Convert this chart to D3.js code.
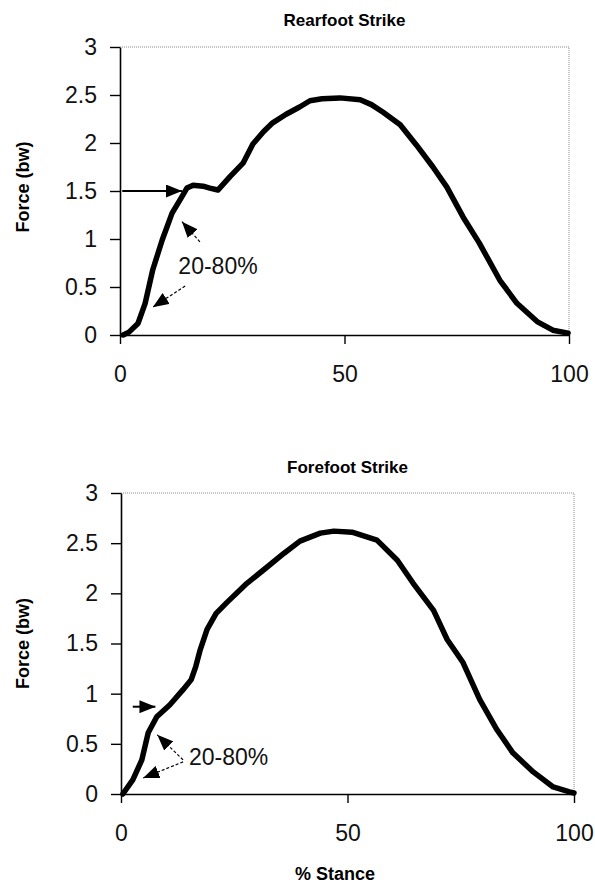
<!DOCTYPE html>
<html><head><meta charset="utf-8">
<script src="https://cdn.jsdelivr.net/npm/d3@7"></script>
<style>body{margin:0;background:#fff}svg{display:block}</style>
</head><body>
<script>
// ---- data ----
const xTicks = [0, 50, 100];
const yTicks = [0, 0.5, 1, 1.5, 2, 2.5, 3];
const yTickLabels = ["0", "0.5", "1", "1.5", "2", "2.5", "3"];

const rearPct = [0.7,2,4,5.6,7.3,9.4,11.6,13.4,14.9,16.3,18.5,20,21.8,24.5,27.4,29.6,32,34,37,40,42.3,45,49,53.5,56,58.6,62.4,66,69.7,72.8,76.4,80,84.6,88.4,92.9,96.4,99.8];
const rearForce = [0,0.03,0.12,0.33,0.68,0.99,1.27,1.41,1.53,1.56,1.55,1.53,1.51,1.65,1.79,1.99,2.12,2.21,2.30,2.375,2.44,2.46,2.47,2.45,2.40,2.32,2.19,1.98,1.75,1.54,1.23,0.96,0.57,0.33,0.14,0.05,0.02];

const forePct = [0.4,2.6,4.6,6,7.9,10.8,13.7,15.5,16.5,17.5,19,21,23.4,27.8,32.2,36,39.5,44,47,51,56.5,61,64.5,69,72,75.5,79.2,83,86.5,91,95.4,99,100];
const foreForce = [0,0.14,0.34,0.61,0.77,0.89,1.04,1.14,1.27,1.44,1.64,1.80,1.91,2.1,2.26,2.40,2.52,2.60,2.62,2.61,2.53,2.33,2.1,1.83,1.54,1.31,0.94,0.64,0.41,0.22,0.07,0.02,0.01];

const titles = ["Rearfoot Strike", "Forefoot Strike"];
const yLabel = "Force (bw)";
const xLabel = "% Stance";
const noteText = "20-80%";
// annotation arrows: [x0,y0,x1,y1] in data units (tail -> tip)
const rearArrows = [[0.5,1.5,13.8,1.5],[17.8,0.97,13.8,1.18],[14.5,0.51,7.3,0.29]];
const foreArrows = [[2.6,0.87,7.6,0.87],[13.7,0.34,8.0,0.59],[13.7,0.32,4.9,0.16]];
const rearNote = [13, 0.72];
const foreNote = [15, 0.37];

// ---- layout ----
const W = 595, H = 886;
const svg = d3.select("body").append("svg").attr("width", W).attr("height", H);

const defs = svg.append("defs");
defs.append("marker").attr("id","ah").attr("viewBox","0 0 16 13").attr("refX",16).attr("refY",6.5)
  .attr("markerWidth",16).attr("markerHeight",13).attr("markerUnits","userSpaceOnUse").attr("orient","auto")
  .append("path").attr("d","M0,0L16,6.5L0,13Z").attr("fill","#000");

const panels = [
  {pct: rearPct, force: rearForce, title: titles[0], arrows: rearArrows, note: rearNote,
   x0: 120, x1: 569, yTop: 47, yBot: 335, titleY: 20, showX: false},
  {pct: forePct, force: foreForce, title: titles[1], arrows: foreArrows, note: foreNote,
   x0: 121, x1: 574, yTop: 493, yBot: 794, titleY: 467, showX: true}
];

const tickFont = "'Liberation Sans', Arial, sans-serif";

panels.forEach((p, i) => {
  const x = d3.scaleLinear().domain([0, 100]).range([p.x0, p.x1]);
  const y = d3.scaleLinear().domain([0, 3]).range([p.yBot, p.yTop]);
  const g = svg.append("g");

  // dotted frame top/right
  g.append("path")
    .attr("d", `M${p.x0},${p.yTop}H${p.x1}V${p.yBot}`)
    .attr("fill","none").attr("stroke","#8a8a8a").attr("stroke-width",1).attr("stroke-dasharray","1,1");

  // y axis
  const yAxis = d3.axisLeft(y).tickValues(yTicks).tickFormat((d, k) => yTickLabels[k])
    .tickSizeInner(10).tickSizeOuter(0).tickPadding(13);
  const ya = g.append("g").attr("transform", `translate(${p.x0},0)`).call(yAxis);
  ya.select(".domain").attr("stroke","#000").attr("stroke-width",1.6);
  ya.selectAll(".tick line").attr("stroke","#000").attr("stroke-width",1.4);
  ya.selectAll(".tick text").attr("font-family", tickFont).attr("font-size", 23).attr("fill","#111");

  // x axis
  const xAxis = d3.axisBottom(x).tickValues(xTicks).tickFormat(d3.format("d"))
    .tickSizeInner(9).tickSizeOuter(0).tickPadding(22);
  const xa = g.append("g").attr("transform", `translate(0,${p.yBot})`).call(xAxis);
  xa.select(".domain").attr("stroke","#000").attr("stroke-width",1.6);
  xa.selectAll(".tick line").attr("stroke","#000").attr("stroke-width",1.4);
  xa.selectAll(".tick text").attr("font-family", tickFont).attr("font-size", 23).attr("fill","#111");

  // title
  g.append("text").attr("x", (p.x0 + p.x1) / 2).attr("y", p.titleY).attr("text-anchor","middle")
    .attr("dominant-baseline","central")
    .attr("font-family","Arial, 'Liberation Sans', sans-serif").attr("font-weight","bold").attr("font-size",17)
    .text(p.title);

  // y label
  g.append("text").attr("transform", `translate(23,${(p.yTop + p.yBot) / 2 + (i===0?-4:0)}) rotate(-90)`)
    .attr("text-anchor","middle").attr("dominant-baseline","central")
    .attr("font-family","Arial, 'Liberation Sans', sans-serif").attr("font-weight","bold").attr("font-size",18)
    .text(yLabel);

  // curve
  const pts = p.pct.map((v, k) => [v, p.force[k]]);
  g.append("path").datum(pts)
    .attr("d", d3.line().x(d => x(d[0])).y(d => y(d[1])))
    .attr("fill","none").attr("stroke","#000").attr("stroke-width",5.5)
    .attr("stroke-linejoin","round").attr("stroke-linecap","round");

  // arrows
  p.arrows.forEach((a, k) => {
    g.append("line").attr("x1", x(a[0])).attr("y1", y(a[1])).attr("x2", x(a[2])).attr("y2", y(a[3]))
      .attr("stroke","#000").attr("stroke-width", k === 0 ? 2 : 1.2)
      .attr("stroke-dasharray", k === 0 ? null : "3,2")
      .attr("marker-end","url(#ah)");
  });

  // note
  g.append("text").attr("x", x(p.note[0])).attr("y", y(p.note[1])).attr("dominant-baseline","central")
    .attr("font-family", tickFont).attr("font-size", 23).attr("fill","#111").text(noteText);

  if (p.showX) {
    g.append("text").attr("x", 335).attr("y", 874).attr("text-anchor","middle").attr("dominant-baseline","central")
      .attr("font-family","Arial, 'Liberation Sans', sans-serif").attr("font-weight","bold").attr("font-size",18)
      .text(xLabel);
  }
});
</script>
</body></html>
